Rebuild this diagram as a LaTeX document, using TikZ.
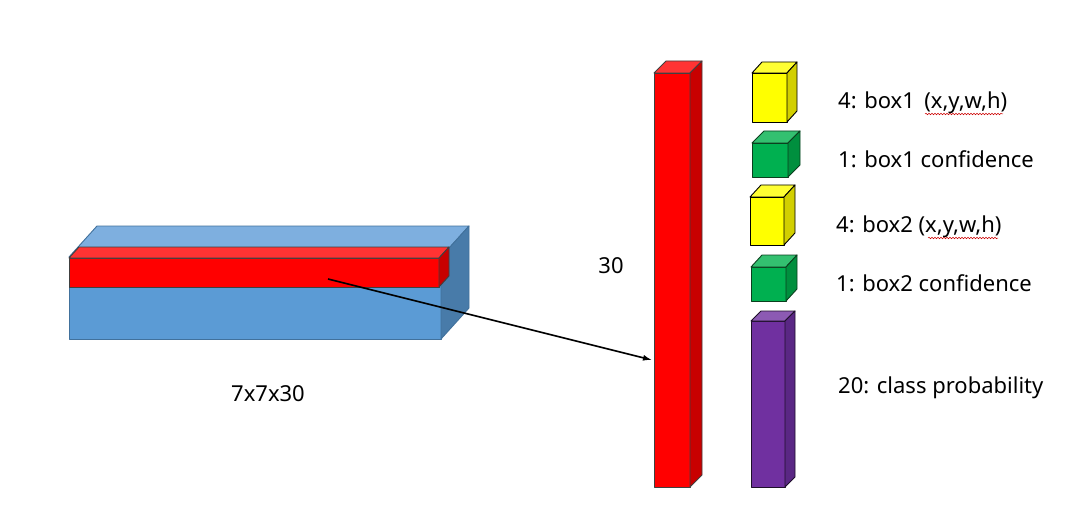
\documentclass[tikz,border=0pt]{standalone}
\usepackage{fontspec}
\setmainfont{Noto Sans}
\usetikzlibrary{arrows.meta,calc,decorations.pathmorphing}

% colour sets: F front, T top, S side, E edge
\definecolor{bluF}{HTML}{5B9BD5}\definecolor{bluT}{HTML}{7EAFDF}
\definecolor{bluS}{HTML}{487BA9}\definecolor{bluE}{HTML}{41719C}
\definecolor{redF}{HTML}{FF0000}\definecolor{redT}{HTML}{FF3333}
\definecolor{redS}{HTML}{C80000}\definecolor{redE}{HTML}{404040}
\definecolor{yelF}{HTML}{FFFF00}\definecolor{yelT}{HTML}{FFFF33}
\definecolor{yelS}{HTML}{D2CF00}\definecolor{yelE}{HTML}{000000}
\definecolor{grnF}{HTML}{00B050}\definecolor{grnT}{HTML}{33C070}
\definecolor{grnS}{HTML}{008F3E}\definecolor{grnE}{HTML}{0B3F1E}
\definecolor{purF}{HTML}{7030A0}\definecolor{purT}{HTML}{8C5AB3}
\definecolor{purS}{HTML}{5A2784}\definecolor{purE}{HTML}{1E0F2A}

\tikzset{
  face/.style={inner sep=0pt, outer sep=0pt, line width=0.9pt, line join=round},
  label/.style={font=\fontsize{22}{26}\selectfont, inner sep=0pt},
  squiggle/.style={red!80!black, line width=0.5pt,
    decorate, decoration={snake, amplitude=0.8pt, segment length=3pt}}
}

% name, x, y, width, height, depth x, depth y, colour set
\newcommand{\cuboid}[8]{%
  \node[face, draw=#8E, fill=#8F, minimum width=#4pt, minimum height=#5pt,
        anchor=north west] (#1) at (#2,#3) {};
  \filldraw[face, draw=#8E, fill=#8T] (#1.north west) -- ++(#6,-#7)
    -- ++(#4,0) -- (#1.north east) -- cycle;
  \filldraw[face, draw=#8E, fill=#8S] (#1.north east) -- ++(#6,-#7)
    -- ++(0,#5) -- (#1.south east) -- cycle;
}

\begin{document}
\begin{tikzpicture}[x=1pt, y=-1pt]
\useasboundingbox (0,0) rectangle (1089,513);

% feature map and one grid cell
\cuboid{grid}{69}{257}{372}{82}{28}{31}{blu}
\cuboid{cell}{69}{258}{370}{29}{10}{11}{red}
\node[label] (size) at (268,394) {7x7x30};

% output vector of one cell
\cuboid{vec}{654}{73}{36}{414}{12}{12}{red}
\node[label] (len) at (611,266) {30};

% split of the vector
\cuboid{boxa}{752}{73}{35}{49}{10}{11}{yel}
\cuboid{confa}{752}{143}{36}{34}{12}{12}{grn}
\cuboid{boxb}{750}{197}{34}{48}{11}{12}{yel}
\cuboid{confb}{751}{267}{35}{34}{11}{12}{grn}
\cuboid{cls}{751}{321}{34}{166}{10}{10}{pur}

\node[label, anchor=west] (lboxa) at (838,103) {4: box1 \,(x,y,w,h)};
\node[label, anchor=west] (lconfa) at (838,159) {1: box1 confidence};
\node[label, anchor=west] (lboxb) at (836,227) {4: box2 (x,y,w,h)};
\node[label, anchor=west] (lconfb) at (836,283) {1: box2 confidence};
\node[label, anchor=west] (lcls) at (838,388) {20: class probability};

% spell-check marks
\draw[squiggle] ($(lboxa.west)+(87,11)$) -- ++(78,0);
\draw[squiggle] ($(lboxb.west)+(92,11)$) -- ++(70,0);

% arrow from cell to vector
\coordinate (pick) at (328,279);
\coordinate (hit) at (652,360);
\draw[-{Latex[length=9pt,width=6pt]}, line width=1.6pt] (pick) -- (hit);
\end{tikzpicture}
\end{document}
